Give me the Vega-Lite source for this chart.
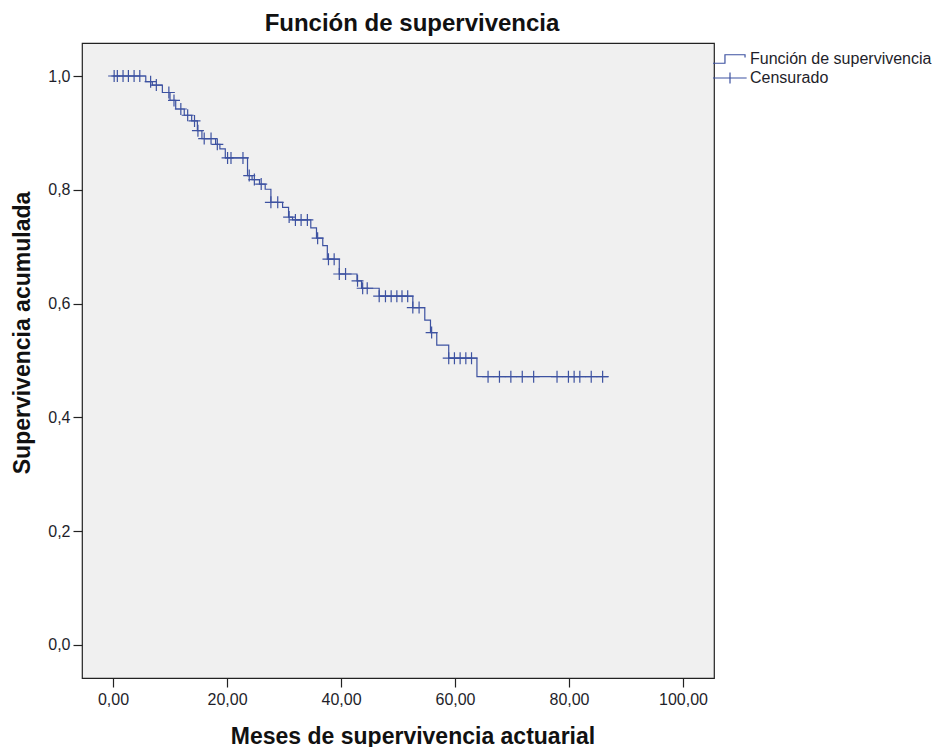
{
  "$schema": "https://vega.github.io/schema/vega-lite/v6.json",
  "width": 632,
  "height": 635,
  "autosize": {"type": "none"},
  "padding": {"left": 82, "top": 43, "right": 224, "bottom": 69},
  "background": "#ffffff",
  "title": {"text": "Función de supervivencia", "font": "Liberation Sans", "fontSize": 24, "fontWeight": "bold", "color": "#111111", "anchor": "middle", "dx": 14, "offset": 7},
  "config": {
    "view": {"fill": "#f0f0f0", "stroke": "#222222", "strokeWidth": 1.2},
    "axis": {"labelFont": "Liberation Sans", "titleFont": "Liberation Sans", "labelColor": "#1e1e2a", "titleColor": "#111111", "tickColor": "#222222", "tickWidth": 1.2, "grid": false, "domain": false}
  },
  "datasets": {
    "curva": [
      {"t": 0, "s": 1.0, "serie": "Función de supervivencia"},
      {"t": 5.75, "s": 0.990, "serie": "Función de supervivencia"},
      {"t": 6.9, "s": 0.984, "serie": "Función de supervivencia"},
      {"t": 8.66, "s": 0.971, "serie": "Función de supervivencia"},
      {"t": 10.0, "s": 0.957, "serie": "Función de supervivencia"},
      {"t": 11.0, "s": 0.942, "serie": "Función de supervivencia"},
      {"t": 12.5, "s": 0.931, "serie": "Función de supervivencia"},
      {"t": 13.8, "s": 0.921, "serie": "Función de supervivencia"},
      {"t": 14.8, "s": 0.904, "serie": "Función de supervivencia"},
      {"t": 15.6, "s": 0.890, "serie": "Función de supervivencia"},
      {"t": 18.0, "s": 0.880, "serie": "Función de supervivencia"},
      {"t": 18.75, "s": 0.872, "serie": "Función de supervivencia"},
      {"t": 19.7, "s": 0.856, "serie": "Función de supervivencia"},
      {"t": 23.6, "s": 0.825, "serie": "Función de supervivencia"},
      {"t": 24.4, "s": 0.818, "serie": "Función de supervivencia"},
      {"t": 25.7, "s": 0.810, "serie": "Función de supervivencia"},
      {"t": 26.7, "s": 0.801, "serie": "Función de supervivencia"},
      {"t": 27.7, "s": 0.778, "serie": "Función de supervivencia"},
      {"t": 29.75, "s": 0.769, "serie": "Función de supervivencia"},
      {"t": 30.8, "s": 0.752, "serie": "Función de supervivencia"},
      {"t": 31.5, "s": 0.747, "serie": "Función de supervivencia"},
      {"t": 34.7, "s": 0.733, "serie": "Función de supervivencia"},
      {"t": 35.7, "s": 0.715, "serie": "Función de supervivencia"},
      {"t": 36.8, "s": 0.702, "serie": "Función de supervivencia"},
      {"t": 37.6, "s": 0.678, "serie": "Función de supervivencia"},
      {"t": 39.7, "s": 0.652, "serie": "Función de supervivencia"},
      {"t": 42.8, "s": 0.640, "serie": "Función de supervivencia"},
      {"t": 43.6, "s": 0.627, "serie": "Función de supervivencia"},
      {"t": 46.7, "s": 0.613, "serie": "Función de supervivencia"},
      {"t": 52.6, "s": 0.593, "serie": "Función de supervivencia"},
      {"t": 54.7, "s": 0.571, "serie": "Función de supervivencia"},
      {"t": 55.7, "s": 0.549, "serie": "Función de supervivencia"},
      {"t": 56.8, "s": 0.527, "serie": "Función de supervivencia"},
      {"t": 58.9, "s": 0.504, "serie": "Función de supervivencia"},
      {"t": 63.85, "s": 0.4715, "serie": "Función de supervivencia"},
      {"t": 86.9, "s": 0.4715, "serie": "Función de supervivencia"}
    ],
    "cens": [
      {"t": 0.2, "s": 1.0, "serie": "Censurado"},
      {"t": 0.76, "s": 1.0, "serie": "Censurado"},
      {"t": 1.76, "s": 1.0, "serie": "Censurado"},
      {"t": 2.7, "s": 1.0, "serie": "Censurado"},
      {"t": 3.7, "s": 1.0, "serie": "Censurado"},
      {"t": 4.7, "s": 1.0, "serie": "Censurado"},
      {"t": 6.6, "s": 0.990, "serie": "Censurado"},
      {"t": 7.6, "s": 0.984, "serie": "Censurado"},
      {"t": 9.8, "s": 0.971, "serie": "Censurado"},
      {"t": 10.7, "s": 0.957, "serie": "Censurado"},
      {"t": 11.9, "s": 0.942, "serie": "Censurado"},
      {"t": 13.1, "s": 0.931, "serie": "Censurado"},
      {"t": 14.3, "s": 0.921, "serie": "Censurado"},
      {"t": 14.9, "s": 0.904, "serie": "Censurado"},
      {"t": 16.0, "s": 0.890, "serie": "Censurado"},
      {"t": 17.2, "s": 0.890, "serie": "Censurado"},
      {"t": 18.3, "s": 0.880, "serie": "Censurado"},
      {"t": 20.1, "s": 0.856, "serie": "Censurado"},
      {"t": 20.7, "s": 0.856, "serie": "Censurado"},
      {"t": 22.8, "s": 0.856, "serie": "Censurado"},
      {"t": 23.9, "s": 0.825, "serie": "Censurado"},
      {"t": 24.8, "s": 0.818, "serie": "Censurado"},
      {"t": 26.0, "s": 0.810, "serie": "Censurado"},
      {"t": 27.7, "s": 0.778, "serie": "Censurado"},
      {"t": 28.9, "s": 0.778, "serie": "Censurado"},
      {"t": 30.9, "s": 0.752, "serie": "Censurado"},
      {"t": 32.0, "s": 0.747, "serie": "Censurado"},
      {"t": 33.0, "s": 0.747, "serie": "Censurado"},
      {"t": 34.1, "s": 0.747, "serie": "Censurado"},
      {"t": 35.9, "s": 0.715, "serie": "Censurado"},
      {"t": 37.8, "s": 0.678, "serie": "Censurado"},
      {"t": 38.8, "s": 0.678, "serie": "Censurado"},
      {"t": 39.7, "s": 0.652, "serie": "Censurado"},
      {"t": 40.8, "s": 0.652, "serie": "Censurado"},
      {"t": 42.9, "s": 0.640, "serie": "Censurado"},
      {"t": 43.8, "s": 0.627, "serie": "Censurado"},
      {"t": 44.6, "s": 0.627, "serie": "Censurado"},
      {"t": 46.7, "s": 0.613, "serie": "Censurado"},
      {"t": 47.8, "s": 0.613, "serie": "Censurado"},
      {"t": 48.8, "s": 0.613, "serie": "Censurado"},
      {"t": 49.8, "s": 0.613, "serie": "Censurado"},
      {"t": 50.7, "s": 0.613, "serie": "Censurado"},
      {"t": 51.7, "s": 0.613, "serie": "Censurado"},
      {"t": 52.6, "s": 0.593, "serie": "Censurado"},
      {"t": 53.7, "s": 0.593, "serie": "Censurado"},
      {"t": 55.9, "s": 0.549, "serie": "Censurado"},
      {"t": 58.9, "s": 0.504, "serie": "Censurado"},
      {"t": 59.9, "s": 0.504, "serie": "Censurado"},
      {"t": 60.9, "s": 0.504, "serie": "Censurado"},
      {"t": 61.9, "s": 0.504, "serie": "Censurado"},
      {"t": 62.9, "s": 0.504, "serie": "Censurado"},
      {"t": 65.8, "s": 0.4715, "serie": "Censurado"},
      {"t": 67.8, "s": 0.4715, "serie": "Censurado"},
      {"t": 69.8, "s": 0.4715, "serie": "Censurado"},
      {"t": 71.8, "s": 0.4715, "serie": "Censurado"},
      {"t": 73.8, "s": 0.4715, "serie": "Censurado"},
      {"t": 77.9, "s": 0.4715, "serie": "Censurado"},
      {"t": 79.9, "s": 0.4715, "serie": "Censurado"},
      {"t": 80.9, "s": 0.4715, "serie": "Censurado"},
      {"t": 81.9, "s": 0.4715, "serie": "Censurado"},
      {"t": 83.9, "s": 0.4715, "serie": "Censurado"},
      {"t": 85.9, "s": 0.4715, "serie": "Censurado"}
    ]
  },
  "encoding": {
    "x": {
      "field": "t", "type": "quantitative",
      "scale": {"domain": [-5.44, 105.44], "nice": false, "zero": false},
      "axis": {
        "values": [0, 20, 40, 60, 80, 100],
        "labelExpr": "replace(format(datum.value, '.2f'), '.', ',')",
        "labelFontSize": 16, "tickSize": 9, "labelPadding": 4,
        "title": "Meses de supervivencia actuarial",
        "titleFontSize": 23, "titleFontWeight": "bold",
        "titleAnchor": "start", "titleAlign": "center",
        "titleX": 330.5, "titleY": 65, "titleBaseline": "alphabetic"
      }
    },
    "y": {
      "field": "s", "type": "quantitative",
      "scale": {"domain": [-0.058, 1.058], "nice": false, "zero": false},
      "axis": {
        "values": [0, 0.2, 0.4, 0.6, 0.8, 1.0],
        "labelExpr": "replace(format(datum.value, '.1f'), '.', ',')",
        "labelFontSize": 16, "tickSize": 9, "labelPadding": 3,
        "title": "Supervivencia acumulada",
        "titleFontSize": 23, "titleFontWeight": "bold",
        "titleAngle": -90, "titleAlign": "center", "titleBaseline": "middle",
        "titleX": -60, "titleY": 289.5
      }
    },
    "color": {
      "field": "serie", "type": "nominal",
      "scale": {"domain": ["Función de supervivencia", "Censurado"], "range": ["#3d52a1", "#3d52a1"]},
      "legend": {
        "title": null,
        "orient": "none",
        "legendX": 638,
        "legendY": 6,
        "padding": 0,
        "labelFont": "Liberation Sans",
        "labelFontSize": 16,
        "labelColor": "#1e1e2a",
        "labelOffset": 10,
        "labelLimit": 0,
        "symbolSize": 324,
        "symbolStrokeWidth": 1.2,
        "rowPadding": 1,
        "encode": {
          "symbols": {
            "update": {
              "shape": {"signal": "datum.value === 'Censurado' ? 'M-1.89,0L1.85,0M0,-0.6L0,0.6' : 'M-1.89,0.47L-0.56,0.47L-0.56,-0.47L1.67,-0.47L1.67,-0.17'"},
              "fill": {"value": "transparent"},
              "stroke": {"value": "#3d52a1"},
              "strokeWidth": {"value": 1.2},
              "opacity": {"value": 1}
            }
          }
        }
      }
    }
  },
  "layer": [
    {
      "data": {"name": "curva"},
      "mark": {"type": "line", "interpolate": "step-after", "strokeWidth": 1.2}
    },
    {
      "data": {"name": "cens"},
      "mark": {"type": "point", "shape": "M-1,0L1,0M0,-1L0,1", "size": 144, "filled": false, "strokeWidth": 1.2, "opacity": 1}
    }
  ]
}
